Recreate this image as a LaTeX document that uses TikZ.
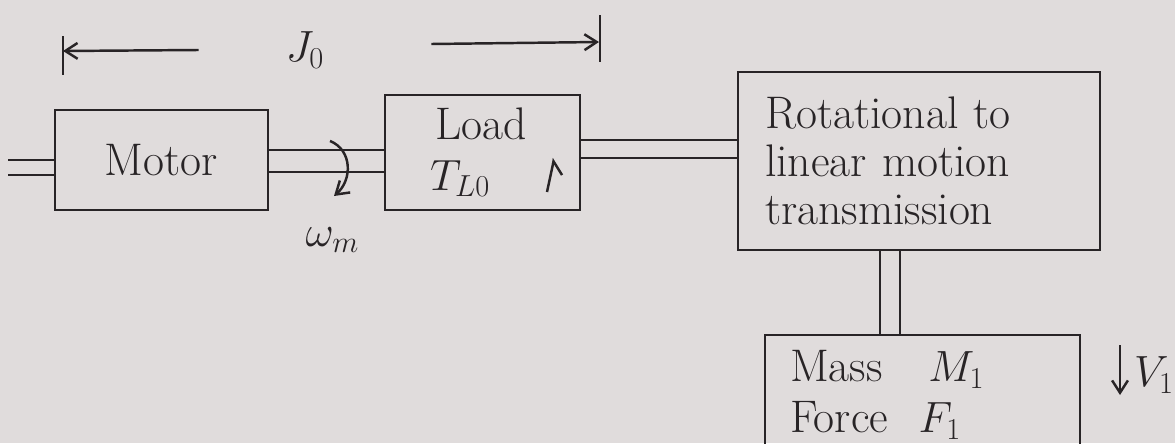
\documentclass[tikz,border=0pt]{standalone}
\usetikzlibrary{arrows.meta}
\definecolor{paper}{RGB}{224,220,220}
\definecolor{ink}{RGB}{40,36,38}
\begin{document}
\begin{tikzpicture}[
  ink/.style={draw=ink, line width=1.4pt},
  blk/.style={ink, rectangle, inner sep=0pt, font=\fontsize{26}{26}\selectfont, text=ink},
  lbl/.style={font=\fontsize{26}{26}\selectfont, text=ink, inner sep=1pt},
  arr/.style={ink, -{Straight Barb[length=7pt,width=9pt]}},
]
\clip (0,0) rectangle (23.5,-8.86);
\fill[paper] (0,0) rectangle (23.5,-8.86);

% blocks
\node[blk, minimum width=4.26cm, minimum height=2.0cm] (motor) at (3.23,-3.2) {Motor};
\node[blk, minimum width=3.9cm, minimum height=2.3cm, align=left, text width=2.1cm] (load) at (9.65,-3.05)
  {\hspace*{0.1cm}Load\\[0.1cm]$T_{L0}$};
\node[blk, minimum width=7.24cm, minimum height=3.56cm, align=left, text width=6.16cm] (rot) at (18.38,-3.22)
  {Rotational to\\[0.05cm]linear motion\\[0.05cm]transmission};
\node[blk, minimum width=6.3cm, minimum height=2.4cm, align=left, text width=5.3cm] (mass) at (18.45,-7.9)
  {Mass \ \ $M_1$\\[0.1cm]Force \ $F_1$};

% shafts
\coordinate (in1) at (0.16,-3.2);
\draw[ink] (in1) -- (motor.west);
\draw[ink] ([yshift=-0.3cm]in1) -- ([yshift=-0.3cm]motor.west);
\draw[ink] ([yshift=0.2cm]motor.east) -- ([yshift=0.2cm]motor.east -| load.west);
\draw[ink] ([yshift=-0.24cm]motor.east) -- ([yshift=-0.24cm]motor.east -| load.west);
\draw[ink] ([yshift=0.25cm]load.east) -- ([yshift=0.25cm]load.east -| rot.west);
\draw[ink] ([yshift=-0.11cm]load.east) -- ([yshift=-0.11cm]load.east -| rot.west);
\draw[ink] ([xshift=-0.78cm]rot.south) -- ([xshift=-0.78cm]rot.south |- mass.north);
\draw[ink] ([xshift=-0.38cm]rot.south) -- ([xshift=-0.38cm]rot.south |- mass.north);

% J0 dimension
\node[lbl] (j0) at (6.1,-1.0) {$J_0$};
\coordinate (jl) at (1.26,-1.02);
\coordinate (jr) at (11.98,-0.84);
\draw[ink] (1.26,-0.72) -- (1.26,-1.5);
\draw[ink] (12.0,-0.3) -- (12.0,-1.24);
\draw[arr] ([xshift=-1.7cm]j0.west) -- (jl);
\draw[arr] ([xshift=2.1cm,yshift=0.12cm]j0.east) -- (jr);

% omega_m
\node[lbl] (wm) at (6.65,-4.8) {$\omega_m$};
\draw[arr] (6.6,-2.82) .. controls (7.05,-3.0) and (7.05,-3.6) .. (6.68,-3.92);

% load torque arrow
\draw[ink, -{Straight Barb[harpoon,swap,length=7pt,width=12pt]}] (10.94,-3.84) .. controls (11.02,-3.55) .. (11.08,-3.16);

% V1
\node[lbl] (v1) at (23.08,-7.5) {$V_1$};
\coordinate (vt) at (22.4,-6.9);
\coordinate (vb) at (22.4,-7.9);
\draw[arr] (vt) -- (vb);
\end{tikzpicture}
\end{document}
